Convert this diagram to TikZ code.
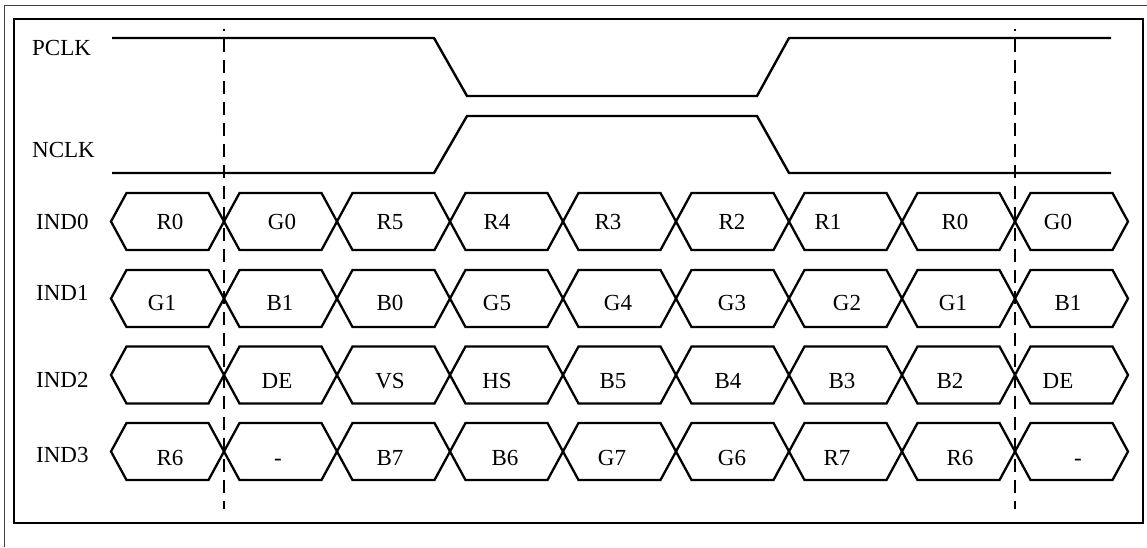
\documentclass[tikz,border=0pt]{standalone}
\usepackage{fontspec}
\setmainfont{Liberation Serif}
\begin{document}
\begin{tikzpicture}[x=1pt,y=-1pt,
  wave/.style={line width=2.4pt,line join=miter},
  hexw/.style={line width=2.3pt,line join=miter},
  lbl/.style={anchor=base west,inner sep=0pt,font=\fontsize{23}{27}\selectfont},
  cell/.style={anchor=base,inner sep=0pt,font=\fontsize{23}{27}\selectfont},
  guide/.style={line width=2.3pt,dash pattern=on 13pt off 8pt,dash phase=11pt}]
\useasboundingbox (0,0) rectangle (1147,547);
\fill[white] (0,0) rectangle (1147,547);
% outer thin frame
\draw[line width=1pt,black!75] (4,547) -- (4,5) -- (1147,5);
% inner frame
\draw[line width=2.5pt] (14,19) rectangle (1143,523);
% labels
\node[lbl] (pclk) at (32,55.6) {PCLK};
\node[lbl] (nclk) at (32,157.6) {NCLK};
\node[lbl] (ind0) at (36,229.6) {IND0};
\node[lbl] (ind1) at (36,300.6) {IND1};
\node[lbl] (ind2) at (36,387.6) {IND2};
\node[lbl] (ind3) at (36,462.6) {IND3};
% clocks
\draw[wave] (112,38) -- (434,38) -- (467,96) -- (757,96) -- (789,38) -- (1111,38);
\draw[wave] (112,173) -- (434,173) -- (467,116) -- (757,116) -- (789,173) -- (1111,173);
% hexagons
\foreach \m in {221.5,298.5,375,451.5}{
  \foreach \i in {0,...,8}{
    \pgfmathsetmacro{\xa}{111+113*\i}
    \pgfmathsetmacro{\xb}{111+113*(\i+1)}
    \draw[hexw] (\xa,\m) -- (\xa+15.5,\m-28.5) -- (\xb-15.5,\m-28.5) -- (\xb,\m)
      -- (\xb-15.5,\m+28.5) -- (\xa+15.5,\m+28.5) -- cycle;
  }
}
% row texts
\foreach \x/\t [count=\k] in {170/R0,282/G0,390/R5,497/R4,608/R3,732/R2,828/R1,955/R0,1058/G0}
  \node[cell] (a\k) at (\x,229) {\t};
\foreach \x/\t [count=\k] in {162/G1,280/B1,390/B0,497/G5,618/G4,732/G3,847/G2,953/G1,1068/B1}
  \node[cell] (b\k) at (\x,310.5) {\t};
\foreach \x/\t [count=\k] in {277/DE,390/VS,497/HS,613/B5,728/B4,842/B3,950/B2,1058/DE}
  \node[cell] (c\k) at (\x,388) {\t};
\foreach \x/\t [count=\k] in {170/R6,278/-,390/B7,505/B6,612/G7,732/G6,837/R7,960/R6,1078/-}
  \node[cell] (d\k) at (\x,465) {\t};
% dashed guides
\coordinate (g1t) at (224,29); \coordinate (g1b) at (224,509);
\coordinate (g2t) at (1015,29); \coordinate (g2b) at (1015,509);
\draw[guide] (g1t) -- (g1b);
\draw[guide] (g2t) -- (g2b);
\end{tikzpicture}
\end{document}
